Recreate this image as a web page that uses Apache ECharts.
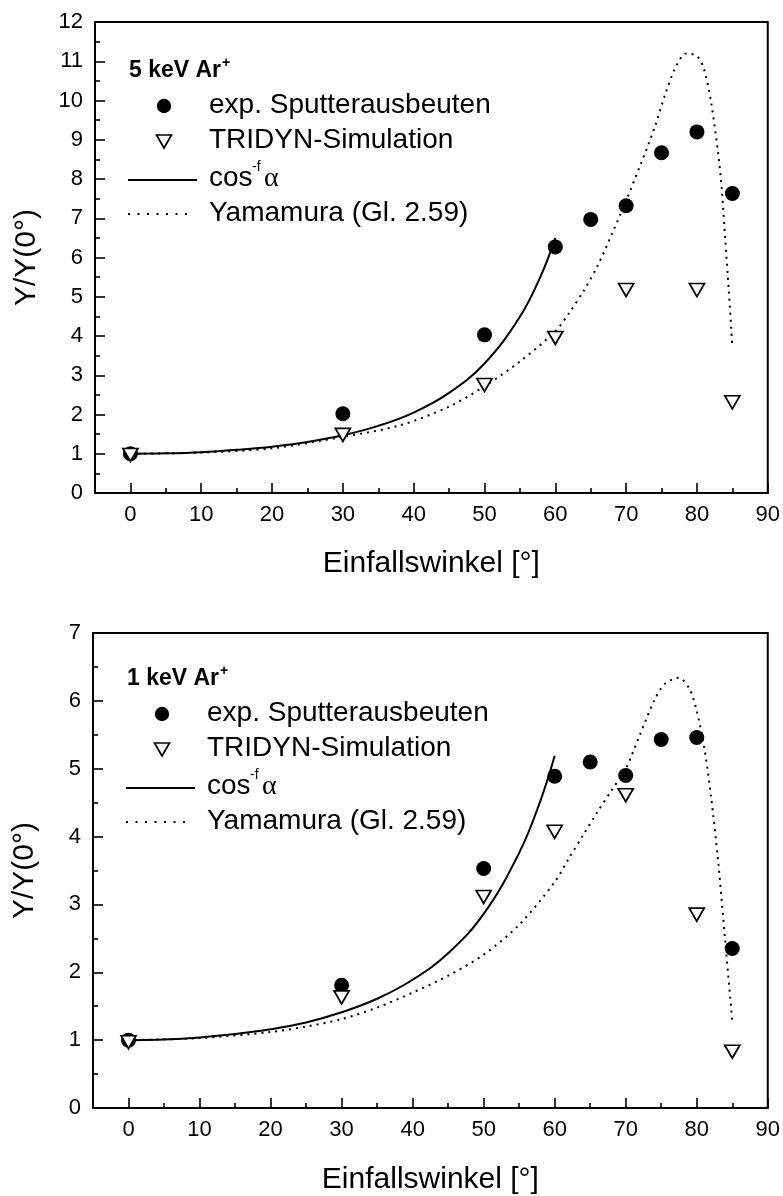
<!DOCTYPE html>
<html><head><meta charset="utf-8">
<script src="https://cdn.jsdelivr.net/npm/echarts@6/dist/echarts.min.js"></script>
<style>html,body{margin:0;padding:0;background:#fff}#c{width:783px;height:1196px}</style>
</head><body><div id="c"></div>
<script>
// ---- tick values ----
const xMajorTicks = [0, 10, 20, 30, 40, 50, 60, 70, 80, 90];
const xMinorTicks = [5, 15, 25, 35, 45, 55, 65, 75, 85];

// ---- 5 keV Ar+ (top) ----
const expAngles5 = [0, 30, 50, 60, 65, 70, 75, 80, 85];
const expYield5 = [1.0, 2.02, 4.03, 6.27, 6.97, 7.32, 8.67, 9.2, 7.63];
const simAngles5 = [0, 30, 50, 60, 70, 80, 85];
const simYield5 = [0.97, 1.48, 2.75, 3.95, 5.17, 5.17, 2.31];
const cosAngles5 = [0, 5, 10, 15, 20, 25, 30, 35, 40, 45, 50, 55, 58, 60];
const cosYield5 = [1.00, 1.01, 1.04, 1.10, 1.18, 1.30, 1.47, 1.71, 2.05, 2.55, 3.30, 4.49, 5.55, 6.50];
const yamAngles5 = [0, 10, 20, 30, 38, 45, 50, 55, 60, 62, 64, 66, 68, 70, 72, 74, 75.5, 77, 78.5, 80, 81, 82, 83, 83.5, 84, 84.5, 85];
const yamYield5 = [1.00, 1.03, 1.14, 1.43, 1.72, 2.20, 2.72, 3.35, 4.12, 4.60, 5.15, 5.80, 6.60, 7.45, 8.35, 9.30, 10.15, 10.85, 11.20, 11.13, 10.80, 9.95, 8.65, 7.75, 6.45, 5.15, 3.72];

// ---- 1 keV Ar+ (bottom) ----
const expAngles1 = [0, 30, 50, 60, 65, 70, 75, 80, 85];
const expYield1 = [1.0, 1.81, 3.53, 4.89, 5.10, 4.90, 5.43, 5.46, 2.35];
const simAngles1 = [0, 30, 50, 60, 70, 80, 85];
const simYield1 = [0.97, 1.63, 3.11, 4.07, 4.61, 2.85, 0.83];
const cosAngles1 = [0, 5, 10, 15, 20, 25, 30, 35, 40, 45, 50, 55, 58, 60];
const cosYield1 = [1.00, 1.01, 1.04, 1.09, 1.16, 1.26, 1.41, 1.61, 1.89, 2.28, 2.86, 3.76, 4.53, 5.19];
const yamAngles1 = [0, 10, 20, 25, 30, 35, 40, 45, 50, 55, 60, 62, 64, 66, 68, 70, 72, 74, 75.5, 77.5, 79, 80, 81, 82, 83, 84, 85];
const yamYield1 = [1.00, 1.03, 1.12, 1.20, 1.31, 1.48, 1.70, 1.95, 2.26, 2.70, 3.33, 3.68, 4.02, 4.36, 4.68, 5.00, 5.50, 6.00, 6.25, 6.34, 6.17, 5.85, 5.35, 4.60, 3.65, 2.47, 1.28];

const FONT = '"Liberation Sans", Arial, sans-serif';
const SERIF = '"Liberation Serif", "Times New Roman", serif';
const pairs = (xs, ys) => ys.map((v, i) => [xs[i], v]);

function xAxes(gridIndex, nameGap) {
  return [{
    gridIndex, type: 'value', min: -5, max: 90,
    name: 'Einfallswinkel [°]', nameLocation: 'middle', nameGap,
    nameTextStyle: { fontSize: 30, fontFamily: FONT, color: '#000' },
    axisLine: { onZero: false, lineStyle: { color: '#000', width: 2 } },
    axisTick: { inside: true, length: 10, customValues: xMajorTicks, lineStyle: { color: '#000', width: 1.6 } },
    axisLabel: { customValues: xMajorTicks, fontSize: 22, fontFamily: FONT, color: '#000', margin: 11 },
    splitLine: { show: false }
  }, {
    gridIndex, type: 'value', min: -5, max: 90, position: 'bottom',
    axisLine: { show: false, onZero: false },
    axisTick: { inside: true, length: 5, customValues: xMinorTicks, lineStyle: { color: '#000', width: 1.6 } },
    axisLabel: { show: false },
    splitLine: { show: false }
  }];
}
function yAxis(gridIndex, max) {
  return {
    gridIndex, type: 'value', min: 0, max, interval: 1,
    name: 'Y/Y(0°)', nameLocation: 'middle', nameGap: 53,
    nameTextStyle: { fontSize: 30, fontFamily: FONT, color: '#000' },
    axisLine: { show: true, onZero: false, lineStyle: { color: '#000', width: 2 } },
    axisTick: { show: true, inside: true, length: 10, lineStyle: { color: '#000', width: 1.6 } },
    minorTick: { show: true, splitNumber: 2, length: 5, lineStyle: { color: '#000', width: 1.6 } },
    axisLabel: { fontSize: 22, fontFamily: FONT, color: '#000', margin: 12 },
    splitLine: { show: false }, minorSplitLine: { show: false }
  };
}
function seriesFor(xi, yi, expX, expY, simX, simY, cosX, cosY, yamX, yamY) {
  return [
    { type: 'line', xAxisIndex: xi, yAxisIndex: yi, data: pairs(cosX, cosY), smooth: 0.4, symbol: 'none',
      lineStyle: { color: '#000', width: 2 }, z: 2 },
    { type: 'line', xAxisIndex: xi, yAxisIndex: yi, data: pairs(yamX, yamY), smooth: 0.3, symbol: 'none',
      lineStyle: { color: '#000', width: 2, type: [2, 5] }, z: 2 },
    { type: 'scatter', xAxisIndex: xi, yAxisIndex: yi, data: pairs(expX, expY), symbol: 'circle', symbolSize: 15,
      itemStyle: { color: '#000', opacity: 1 }, z: 3 },
    { type: 'scatter', xAxisIndex: xi, yAxisIndex: yi, data: pairs(simX, simY), symbol: 'triangle', symbolRotate: 180,
      symbolSize: [15, 13], itemStyle: { color: '#fff', borderColor: '#000', borderWidth: 1.7, opacity: 1 }, z: 4 }
  ];
}
function legend(title, top, symX) {
  const t = top;
  const els = [];
  const txt = (x, y, text, font, family) => ({ type: 'text', x, y,
    style: { text, fill: '#000', font: font + ' ' + (family || FONT), verticalAlign: 'middle', textVerticalAlign: 'middle' } });
  els.push(txt(symX - 35, t, title, 'bold 23px'));
  els.push(txt(symX + 58, t - 8, '+', 'bold 14px'));
  els.push({ type: 'circle', shape: { cx: symX, cy: t + 35, r: 7.2 }, style: { fill: '#000' } });
  els.push(txt(symX + 45, t + 34, 'exp. Sputterausbeuten', '28px'));
  els.push({ type: 'polygon', shape: { points: [[symX - 7.5, t + 64], [symX + 7.5, t + 64], [symX, t + 77]] },
    style: { fill: '#fff', stroke: '#000', lineWidth: 1.7 } });
  els.push(txt(symX + 45, t + 69, 'TRIDYN-Simulation', '28px'));
  els.push({ type: 'line', shape: { x1: symX - 36, y1: t + 109, x2: symX + 33, y2: t + 109 }, style: { stroke: '#000', lineWidth: 2 } });
  els.push(txt(symX + 45, t + 107, 'cos', '28px'));
  els.push(txt(symX + 88, t + 96, '-f', '14px'));
  els.push(txt(symX + 100, t + 108, 'α', '28px', SERIF));
  els.push({ type: 'line', shape: { x1: symX - 36, y1: t + 143, x2: symX + 28, y2: t + 143 }, style: { stroke: '#000', lineWidth: 2, lineDash: [2, 7.5] } });
  els.push(txt(symX + 45, t + 142, 'Yamamura (Gl. 2.59)', '28px'));
  return els;
}

const chart = echarts.init(document.getElementById('c'), null, { renderer: 'canvas' });
chart.setOption({
  backgroundColor: '#fff',
  animation: false,
  grid: [
    { left: 95, top: 22, width: 673, height: 471, show: true, borderColor: '#000', borderWidth: 2, backgroundColor: 'transparent' },
    { left: 93, top: 633, width: 678, height: 478, show: true, borderColor: '#000', borderWidth: 2, backgroundColor: 'transparent' }
  ],
  xAxis: [...xAxes(0, 56), ...xAxes(1, 57)],
  yAxis: [yAxis(0, 12), yAxis(1, 7)],
  series: [
    ...seriesFor(0, 0, expAngles5, expYield5, simAngles5, simYield5, cosAngles5, cosYield5, yamAngles5, yamYield5),
    ...seriesFor(2, 1, expAngles1, expYield1, simAngles1, simYield1, cosAngles1, cosYield1, yamAngles1, yamYield1)
  ],
  graphic: [...legend('5 keV Ar', 71, 164), ...legend('1 keV Ar', 679, 162)]
});
</script></body></html>
